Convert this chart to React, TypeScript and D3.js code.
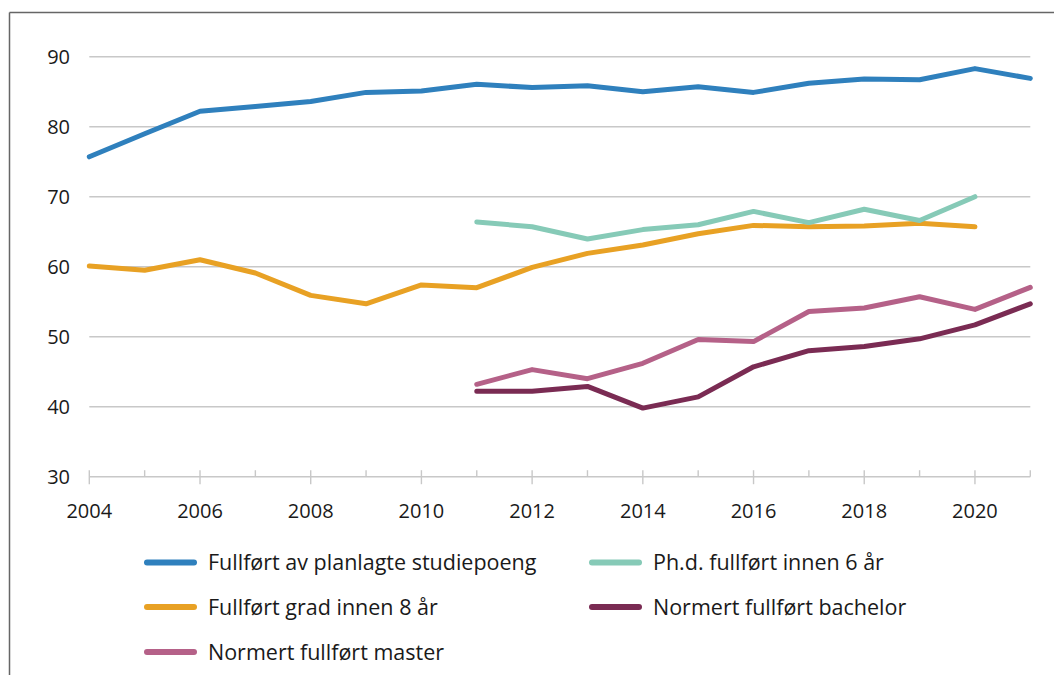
import * as d3 from "d3";
import { useEffect } from "react";

// years on the x axis
const years = d3.range(2004, 2022);

// series values (null = no data that year)
const studiepoeng = [75.7, 79.0, 82.2, 82.9, 83.6, 84.9, 85.1, 86.05, 85.6, 85.85, 85.0, 85.7, 84.9, 86.2, 86.8, 86.7, 88.3, 86.9];
const gradInnen8 = [60.1, 59.5, 61.0, 59.1, 55.9, 54.7, 57.4, 57.0, 59.9, 61.9, 63.1, 64.7, 65.9, 65.7, 65.8, 66.2, 65.7, null];
const phd = [null, null, null, null, null, null, null, 66.4, 65.7, 63.95, 65.3, 66.0, 67.9, 66.3, 68.2, 66.6, 70.0, null];
const bachelor = [null, null, null, null, null, null, null, 42.2, 42.2, 42.9, 39.8, 41.4, 45.7, 48.0, 48.6, 49.7, 51.7, 54.7];
const master = [null, null, null, null, null, null, null, 43.2, 45.3, 44.0, 46.2, 49.6, 49.3, 53.6, 54.1, 55.7, 53.9, 57.05];

const yTicks = [30, 40, 50, 60, 70, 80, 90];
const xLabels = [2004, 2006, 2008, 2010, 2012, 2014, 2016, 2018, 2020];

const series = [
  { name: "Fullført av planlagte studiepoeng", values: studiepoeng, color: "#2f80bd" },
  { name: "Fullført grad innen 8 år", values: gradInnen8, color: "#e8a124" },
  { name: "Ph.d. fullført innen 6 år", values: phd, color: "#86cab7" },
  { name: "Normert fullført bachelor", values: bachelor, color: "#7a2b53" },
  { name: "Normert fullført master", values: master, color: "#b56188" },
];

// legend order: two columns, reading left-right
const legendOrder = [0, 2, 1, 3, 4];

const W = 1054;
const H = 675;
const font = "'Open Sans', 'Noto Sans', sans-serif";

export default function App() {
  useEffect(() => {
    document.body.style.margin = "0";
  }, []);

  const x = d3.scaleLinear().domain([2004, 2021]).range([89.3, 1030.3]);
  const y = d3.scaleLinear().domain([30, 90]).range([476.7, 56.7]);

  const line = d3
    .line<number | null>()
    .defined((d) => d != null)
    .x((_, i) => x(years[i]))
    .y((d) => y(d as number));

  return (
    <svg width={W} height={H} style={{ display: "block", fontFamily: font }}>
      <rect width={W} height={H} fill="white" />
      {/* frame (top + left) */}
      <line x1={9.5} x2={W} y1={12.5} y2={12.5} stroke="#666" strokeWidth={1.5} />
      <line x1={9.5} x2={9.5} y1={12.5} y2={H} stroke="#666" strokeWidth={1.5} />

      {/* gridlines + y labels */}
      {yTicks.map((t) => (
        <g key={t}>
          <line x1={x(2004)} x2={x(2021)} y1={y(t)} y2={y(t)} stroke="#c8c8c8" strokeWidth={1.4} />
          <text x={70} y={y(t) + 7.3} textAnchor="end" fontSize={20} fill="#1a1a1a">
            {t}
          </text>
        </g>
      ))}

      {/* x ticks */}
      {years.map((yr) => (
        <line
          key={yr}
          x1={x(yr)}
          x2={x(yr)}
          y1={y(30) - 6.5}
          y2={xLabels.includes(yr) ? y(30) + 7.5 : y(30)}
          stroke="#c8c8c8"
          strokeWidth={1.4}
        />
      ))}
      {xLabels.map((yr) => (
        <text key={yr} x={x(yr)} y={517.5} textAnchor="middle" fontSize={20} fill="#1a1a1a">
          {yr}
        </text>
      ))}

      {/* lines */}
      {series.map((s) => (
        <path
          key={s.name}
          d={line(s.values) || ""}
          fill="none"
          stroke={s.color}
          strokeWidth={5}
          strokeLinejoin="round"
          strokeLinecap="round"
        />
      ))}

      {/* legend */}
      {legendOrder.map((idx, k) => {
        const s = series[idx];
        const col = k % 2;
        const row = Math.floor(k / 2);
        const lx = col === 0 ? 147 : 592;
        const ly = [562.5, 607, 652][row];
        return (
          <g key={s.name}>
            <line x1={lx} x2={lx + 47} y1={ly} y2={ly} stroke={s.color} strokeWidth={6} strokeLinecap="round" />
            <text x={lx + 61} y={ly + 7.5} fontSize={21.5} fill="#1a1a1a">
              {s.name}
            </text>
          </g>
        );
      })}
    </svg>
  );
}
